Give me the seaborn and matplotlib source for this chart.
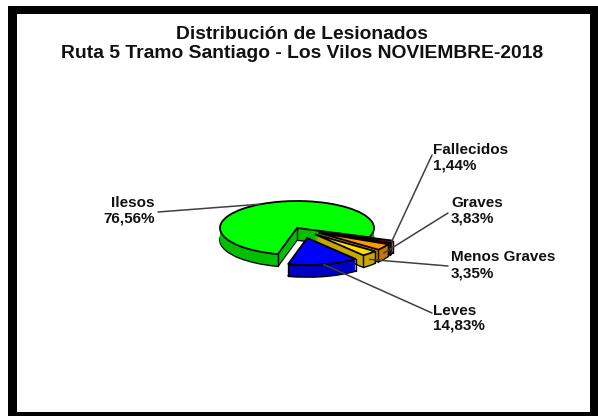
import matplotlib
matplotlib.use("Agg")
import matplotlib.pyplot as plt
import numpy as np
import seaborn as sns

categories = ["Ilesos", "Leves", "Menos Graves", "Graves", "Fallecidos"]
values = [76.56, 14.83, 3.35, 3.83, 1.44]
value_labels = ["76,56%", "14,83%", "3,35%", "3,83%", "1,44%"]
top_colors = ["#00FF00", "#0000FF", "#FFDD00", "#FF9900", "#C00000"]
side_colors = ["#00C000", "#0000C0", "#C8A800", "#C87800", "#800000"]
explode = [0, 0.38, 0.33, 0.33, 0.33]
title = "Distribución de Lesionados\nRuta 5 Tramo Santiago - Los Vilos NOVIEMBRE-2018"

W, H = 598, 416
sns.set_theme(style="white")
plt.rcParams["font.family"] = ["Liberation Sans", "DejaVu Sans"]

fig = plt.figure(figsize=(W / 100, H / 100), dpi=100, facecolor="white")
ax = fig.add_axes([0, 0, 1, 1])

# pie geometry in pixels
cx, cy, rx, ry, depth = 297, 228, 77, 27, 12
depth_u = depth / ry
start = -20
z_order = [1, 5, 4, 3, 2]
wedge_dx = [0, 4, 0, 0, 0]


def draw_pie(off, colors, edge, lw, zbase):
    wedges, _ = ax.pie(values, explode=explode, startangle=start, colors=colors,
                       center=(0, -off), radius=1,
                       wedgeprops=dict(edgecolor=edge, linewidth=lw))
    for w, z, dx in zip(wedges, z_order, wedge_dx):
        w.set_zorder(z * 100 + zbase)
        w.set_center((w.center[0] + dx / rx, w.center[1]))
    return wedges


n = 24
draw_pie(depth_u, side_colors, "black", 1.3, 0)
for k in range(1, n):
    draw_pie(depth_u * (1 - k / n), side_colors, "none", 0, k)
tops = draw_pie(0, top_colors, "black", 1.3, 60)

ax.set_aspect("auto")
ax.set_xlim(-cx / rx, (W - cx) / rx)
ax.set_ylim(-(H - cy) / ry, cy / ry)
ax.axis("off")

# vertical edges at wedge sides, from the drawn wedges
for w, z in zip(tops, z_order):
    c = np.array(w.center)
    for a in (w.theta1, w.theta2):
        p = c + [np.cos(np.radians(a)), np.sin(np.radians(a))]
        ax.plot([p[0], p[0]], [p[1], p[1] - depth_u], color="black", lw=1,
                zorder=z * 100 + 61)
    ax.plot([c[0], c[0]], [c[1], c[1] - depth_u], color="black", lw=1,
            zorder=z * 100 + 59 if z == 1 else 0)

# label positions in figure pixels: anchor x, first line y, line gap, alignment
label_pos = [(155, 203, 15, "right"), (433, 311, 15, "left"), (451, 257, 16, "left"),
             (451, 203, 15, "left"), (433, 150, 15, "left")]
line_end = [(158, 212), (432, 313), (448, 266), (448, 213), (432, 155)]


def px(x, y):
    return (x - cx) / rx, (cy - y) / ry


for i, w in enumerate(tops):
    mid = np.radians((w.theta1 + w.theta2) / 2)
    c = np.array(w.center)
    a = c + np.array([np.cos(mid), np.sin(mid)])
    if i in (2, 3):
        a = a + [0, -depth_u * 0.5]
    ex, ey = px(*line_end[i])
    ax.plot([a[0], ex], [a[1], ey], color="#404040", lw=1.1, zorder=1000,
            solid_capstyle="round")
    x, y, gap, ha = label_pos[i]
    lx, ly = px(x, y)
    ax.text(lx, ly, categories[i], ha=ha, va="center", fontsize=11,
            fontweight="bold", color="#111111", zorder=1100)
    lx, ly = px(x, y + gap)
    ax.text(lx, ly, value_labels[i], ha=ha, va="center", fontsize=11,
            fontweight="bold", color="#111111", zorder=1100)

fig.text(302 / W, 1 - 44 / H, title, ha="center", va="center", fontsize=13.9,
         fontweight="bold", color="#111111", linespacing=1.1)

# outer black frame
frame = [(8, 6, 590, 8), (8, 412, 590, 4), (8, 6, 9, 410), (590, 6, 8, 410)]
for x, y, w_, h_ in frame:
    fig.patches.append(plt.Rectangle((x / W, 1 - (y + h_) / H), w_ / W, h_ / H,
                                     transform=fig.transFigure, facecolor="black",
                                     edgecolor="none", figure=fig))

fig.savefig("out.png", dpi=100)
